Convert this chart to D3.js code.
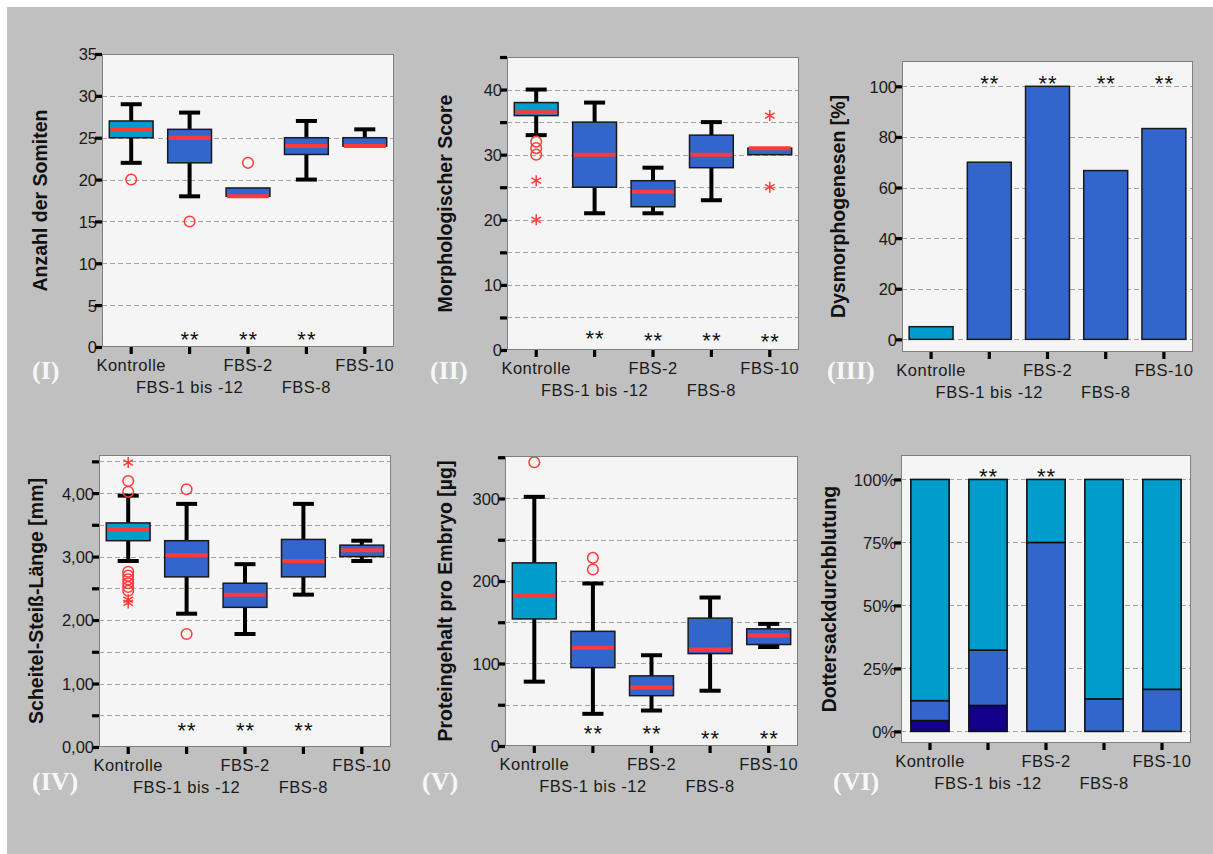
<!DOCTYPE html>
<html>
<head>
<meta charset="utf-8">
<script src="https://cdn.jsdelivr.net/npm/d3@7"></script>
<style>
  body { margin: 0; background: #ffffff; }
  svg { display: block; }
</style>
</head>
<body>
<svg id="fig" width="1213" height="854"></svg>
<script>
// ---- data ----------------------------------------------------------------
const categories = ["Kontrolle", "FBS-1 bis -12", "FBS-2", "FBS-8", "FBS-10"];

// box plots: [lower whisker, Q1, median, Q3, upper whisker]
const somitenStats = [[22, 25, 26, 27, 29], [18, 22, 25, 26, 28], [18, 18, 18, 19, 19], [20, 23, 24, 25, 27], [24, 24, 24, 25, 26]];
const somitenOutliers = [[20], [15], [22], [], []];
const somitenExtremes = [[], [], [], [], []];
const somitenSignif = [null, 1.5, 1.5, 1.5, null];
const somitenTicks = [0, 5, 10, 15, 20, 25, 30, 35];

const scoreStats = [[33, 36, 36.5, 38, 40], [21, 25, 30, 35, 38], [21, 22, 24.3, 26, 28], [23, 28, 30, 33, 35], [30, 30, 31, 31, 31]];
const scoreOutliers = [[32, 31, 30], [], [], [], []];
const scoreExtremes = [[26, 20], [], [], [], [36, 25]];
const scoreSignif = [null, 2.6, 2.2, 2.2, 2.1];
const scoreTicks = [0, 5, 10, 15, 20, 25, 30, 35, 40, 45];
const scoreLabels = [0, 10, 20, 30, 40];

const dysValues = [5, 70, 100, 66.7, 83.3];
const dysSignif = [null, 103, 103, 103, 103];
const dysTicks = [0, 20, 40, 60, 80, 100];

const sslStats = [[2.93, 3.25, 3.42, 3.53, 3.96], [2.10, 2.68, 3.02, 3.25, 3.83], [1.78, 2.20, 2.40, 2.58, 2.88], [2.40, 2.68, 2.93, 3.27, 3.83], [2.93, 3.00, 3.10, 3.18, 3.25]];
const sslOutliers = [[4.19, 4.02, 2.76, 2.70, 2.64, 2.58, 2.52, 2.46], [4.06, 1.78], [], [], []];
const sslExtremes = [[4.48, 2.32, 2.27], [], [], [], []];
const sslSignif = [null, 0.34, 0.34, 0.34, null];
const sslTicks = [0, 0.5, 1, 1.5, 2, 2.5, 3, 3.5, 4, 4.5];
const sslLabels = [0, 1, 2, 3, 4];

const proteinStats = [[78, 154, 183, 222, 302], [39, 95, 119, 139, 197], [43, 61, 71, 85, 110], [67, 112, 117, 155, 180], [120, 123, 134, 142, 148]];
const proteinOutliers = [[344], [228, 214], [], [], []];
const proteinExtremes = [[], [], [], [], []];
const proteinSignif = [null, 21, 21, 15, 15];
const proteinTicks = [0, 50, 100, 150, 200, 250, 300, 350];
const proteinLabels = [0, 100, 200, 300];

// yolk-sac perfusion, stacked shares in percent (bottom to top)
const perfusionLow = [4.3, 10.3, 0, 0, 0];
const perfusionMid = [7.9, 22.0, 75, 12.9, 16.7];
const perfusionHigh = [87.8, 67.7, 25, 87.1, 83.3];
const perfusionSignif = [null, 103.4, 103.4, null, null];
const perfusionTicks = [0, 25, 50, 75, 100];

// ---- styling ---------------------------------------------------------------
const CYAN = "#009ccc", BLUE = "#3366cc", NAVY = "#12008c", RED = "#ff3a3a";
const SANS = "'Liberation Sans', Arial, sans-serif";
const SERIF = "'Liberation Serif', 'Times New Roman', serif";

const svg = d3.select("#fig");
svg.append("rect").attr("x", 7).attr("y", 7).attr("width", 1206).attr("height", 847).attr("fill", "#c0c0c0");

function panel(cfg) {
  const g = svg.append("g");
  const y = d3.scaleLinear().domain(cfg.domain).range([cfg.y1, cfg.y0]);
  const x = d3.scaleBand().domain(categories).range([cfg.x0, cfg.x1]);

  g.append("rect").attr("x", cfg.x0).attr("y", cfg.y0)
    .attr("width", cfg.x1 - cfg.x0).attr("height", cfg.y1 - cfg.y0)
    .attr("fill", "#f5f5f5");

  // dashed gridlines
  g.append("g").selectAll("line").data(cfg.grid).join("line")
    .attr("x1", cfg.x0).attr("x2", cfg.x1)
    .attr("y1", d => Math.round(y(d)) + 0.5).attr("y2", d => Math.round(y(d)) + 0.5)
    .attr("stroke", "#a4a4a4").attr("stroke-width", 1).attr("stroke-dasharray", "5,3");

  const marks = g.append("g");

  // frame
  g.append("rect").attr("x", cfg.x0 + 0.5).attr("y", cfg.y0 + 0.5)
    .attr("width", cfg.x1 - cfg.x0 - 1).attr("height", cfg.y1 - cfg.y0 - 1)
    .attr("fill", "none").attr("stroke", "#808080").attr("stroke-width", 1);

  // y axis
  const yAxis = d3.axisLeft(y).tickValues(cfg.ticks).tickSizeInner(7).tickSizeOuter(0).tickPadding(-2)
    .tickFormat(d => cfg.labels.includes(d) ? cfg.fmt(d) : "");
  const ya = g.append("g").attr("transform", `translate(${cfg.x0},0)`).call(yAxis);
  ya.select(".domain").remove();
  ya.selectAll("line").attr("stroke", "#000").attr("stroke-width", 3.2);
  ya.selectAll("text").attr("font-family", SANS).attr("font-size", 16.5).attr("fill", "#1a1a1a").attr("dy", "0.36em");

  // x axis with staggered category labels
  const xAxis = d3.axisBottom(x).tickSizeInner(7).tickSizeOuter(0);
  const xa = g.append("g").attr("transform", `translate(0,${cfg.y1})`).call(xAxis);
  xa.select(".domain").remove();
  xa.selectAll("line").attr("stroke", "#000").attr("stroke-width", 3.2);
  xa.selectAll("text").attr("font-family", SANS).attr("font-size", 16.5).attr("fill", "#1a1a1a")
    .attr("letter-spacing", "0.5px")
    .attr("dy", 0).attr("y", (d, i) => i % 2 ? 45.5 : 23.5);

  // y axis title
  const cy = (cfg.y0 + cfg.y1) / 2;
  g.append("text").attr("transform", `translate(${cfg.titleX},${cy}) rotate(-90)`)
    .attr("text-anchor", "middle").attr("font-family", SANS).attr("font-weight", "bold")
    .attr("font-size", 19.5).attr("fill", "#111").text(cfg.title);

  // panel numeral
  g.append("text").attr("x", cfg.romanX).attr("y", cfg.romanY)
    .attr("font-family", SERIF).attr("font-weight", "bold").attr("font-size", 26)
    .attr("fill", "#f7f7f7").text(cfg.roman);

  return { x, y, marks };
}

function stars(p, signif) {
  p.marks.append("g").selectAll("text").data(categories.map((c, i) => ({ c, v: signif[i] })).filter(d => d.v !== null))
    .join("text")
    .attr("x", d => p.x(d.c) + p.x.bandwidth() / 2 + 0.5)
    .attr("y", d => p.y(d.v) + 12.7)
    .attr("text-anchor", "middle").attr("font-family", SANS).attr("font-size", 22)
    .attr("letter-spacing", "1px").attr("fill", "#111").text("**");
}

function asteriskPath(cx, cy, r) {
  let d = `M${cx},${cy - r}L${cx},${cy + r}`;
  const dx = r * Math.cos(Math.PI / 6), dy = r * Math.sin(Math.PI / 6);
  d += `M${cx - dx},${cy - dy}L${cx + dx},${cy + dy}`;
  d += `M${cx - dx},${cy + dy}L${cx + dx},${cy - dy}`;
  return d;
}

function boxes(p, stats, outliers, extremes) {
  const bw = p.x.bandwidth();
  const boxW = bw * 0.75, capW = bw * 0.36;
  stats.forEach((s, i) => {
    const cx = p.x(categories[i]) + bw / 2;
    const [lo, q1, med, q3, hi] = s;
    const gg = p.marks.append("g");
    // whiskers
    if (lo < q1) {
      gg.append("line").attr("x1", cx).attr("x2", cx).attr("y1", p.y(lo)).attr("y2", p.y(q1)).attr("stroke", "#000").attr("stroke-width", 4);
      gg.append("line").attr("x1", cx - capW / 2).attr("x2", cx + capW / 2).attr("y1", p.y(lo)).attr("y2", p.y(lo)).attr("stroke", "#000").attr("stroke-width", 4);
    }
    if (hi > q3) {
      gg.append("line").attr("x1", cx).attr("x2", cx).attr("y1", p.y(hi)).attr("y2", p.y(q3)).attr("stroke", "#000").attr("stroke-width", 4);
      gg.append("line").attr("x1", cx - capW / 2).attr("x2", cx + capW / 2).attr("y1", p.y(hi)).attr("y2", p.y(hi)).attr("stroke", "#000").attr("stroke-width", 4);
    }
    // box
    gg.append("rect").attr("x", cx - boxW / 2).attr("y", p.y(q3))
      .attr("width", boxW).attr("height", p.y(q1) - p.y(q3))
      .attr("fill", i === 0 ? CYAN : BLUE).attr("stroke", "#1a1a1a").attr("stroke-width", 1.5);
    // median
    gg.append("line").attr("x1", cx - boxW / 2 + 1).attr("x2", cx + boxW / 2 - 1)
      .attr("y1", p.y(med)).attr("y2", p.y(med)).attr("stroke", RED).attr("stroke-width", 4);
    // outliers
    gg.selectAll("circle").data(outliers[i]).join("circle")
      .attr("cx", cx).attr("cy", d => p.y(d)).attr("r", 5.3)
      .attr("fill", "none").attr("stroke", RED).attr("stroke-width", 1.5);
    gg.selectAll("path").data(extremes[i]).join("path")
      .attr("d", d => asteriskPath(cx, p.y(d), 5.5))
      .attr("fill", "none").attr("stroke", RED).attr("stroke-width", 1.5);
  });
}

const intFmt = d3.format("d");

// (I) somite count
const p1 = panel({ x0: 102, x1: 394, y0: 54, y1: 347, domain: [0, 35], ticks: somitenTicks, labels: somitenTicks,
  grid: somitenTicks.filter(d => d > 0), fmt: intFmt, title: "Anzahl der Somiten", titleX: 46.7,
  roman: "(I)", romanX: 32, romanY: 379 });
boxes(p1, somitenStats, somitenOutliers, somitenExtremes);
stars(p1, somitenSignif);

// (II) morphological score
const p2 = panel({ x0: 507, x1: 799, y0: 57, y1: 350, domain: [0, 45], ticks: scoreTicks, labels: scoreLabels,
  grid: scoreTicks.filter(d => d > 0), fmt: intFmt, title: "Morphologischer Score", titleX: 452,
  roman: "(II)", romanX: 430, romanY: 379 });
boxes(p2, scoreStats, scoreOutliers, scoreExtremes);
stars(p2, scoreSignif);

// (III) dysmorphogenesis rate
const p3 = panel({ x0: 902, x1: 1193, y0: 61, y1: 352, domain: [-5, 110], ticks: dysTicks, labels: dysTicks,
  grid: dysTicks, fmt: intFmt, title: "Dysmorphogenesen [%]", titleX: 845,
  roman: "(III)", romanX: 827, romanY: 379 });
{
  const bx = d3.scaleBand().domain(categories).range([902, 1193]).paddingInner(0.245).paddingOuter(0.1225);
  p3.marks.selectAll("rect.bar").data(dysValues).join("rect").attr("class", "bar")
    .attr("x", (d, i) => bx(categories[i])).attr("width", bx.bandwidth())
    .attr("y", d => p3.y(d)).attr("height", d => p3.y(0) - p3.y(d))
    .attr("fill", (d, i) => i === 0 ? CYAN : BLUE).attr("stroke", "#1a1a1a").attr("stroke-width", 1.5);
}
stars(p3, dysSignif);

// (IV) crown-rump length
const commaFmt = d => d3.format(".2f")(d).replace(".", ",");
const p4 = panel({ x0: 99, x1: 391, y0: 455, y1: 747, domain: [0, 4.6], ticks: sslTicks, labels: sslLabels,
  grid: sslTicks.filter(d => d > 0), fmt: commaFmt, title: "Scheitel-Steiß-Länge [mm]", titleX: 43,
  roman: "(IV)", romanX: 32, romanY: 790 });
boxes(p4, sslStats, sslOutliers, sslExtremes);
stars(p4, sslSignif);

// (V) protein content
const p5 = panel({ x0: 505, x1: 798, y0: 456, y1: 746, domain: [0, 351.5], ticks: proteinTicks, labels: proteinLabels,
  grid: proteinTicks.filter(d => d > 0 && d < 350), fmt: intFmt, title: "Proteingehalt pro Embryo [µg]", titleX: 451.5,
  roman: "(V)", romanX: 422, romanY: 790 });
boxes(p5, proteinStats, proteinOutliers, proteinExtremes);
stars(p5, proteinSignif);

// (VI) yolk-sac perfusion, stacked percentages
const p6 = panel({ x0: 901, x1: 1191, y0: 455, y1: 743, domain: [-4.6, 109.7], ticks: perfusionTicks, labels: perfusionTicks,
  grid: perfusionTicks, fmt: d => d + "%", title: "Dottersackdurchblutung", titleX: 835.5,
  roman: "(VI)", romanX: 833, romanY: 790 });
{
  const rows = categories.map((c, i) => ({ c, low: perfusionLow[i], mid: perfusionMid[i], high: perfusionHigh[i] }));
  const keys = ["low", "mid", "high"];
  const colors = { low: NAVY, mid: BLUE, high: CYAN };
  const series = d3.stack().keys(keys)(rows);
  const bx = d3.scaleBand().domain(categories).range([901, 1191]).paddingInner(0.34).paddingOuter(0.17);
  series.forEach(s => {
    p6.marks.append("g").selectAll("rect").data(s.filter(d => d[1] > d[0])).join("rect")
      .attr("x", d => bx(d.data.c)).attr("width", bx.bandwidth())
      .attr("y", d => p6.y(d[1])).attr("height", d => p6.y(d[0]) - p6.y(d[1]))
      .attr("fill", colors[s.key]).attr("stroke", "#111").attr("stroke-width", 1.6);
  });
}
stars(p6, perfusionSignif);
</script>
</body>
</html>
